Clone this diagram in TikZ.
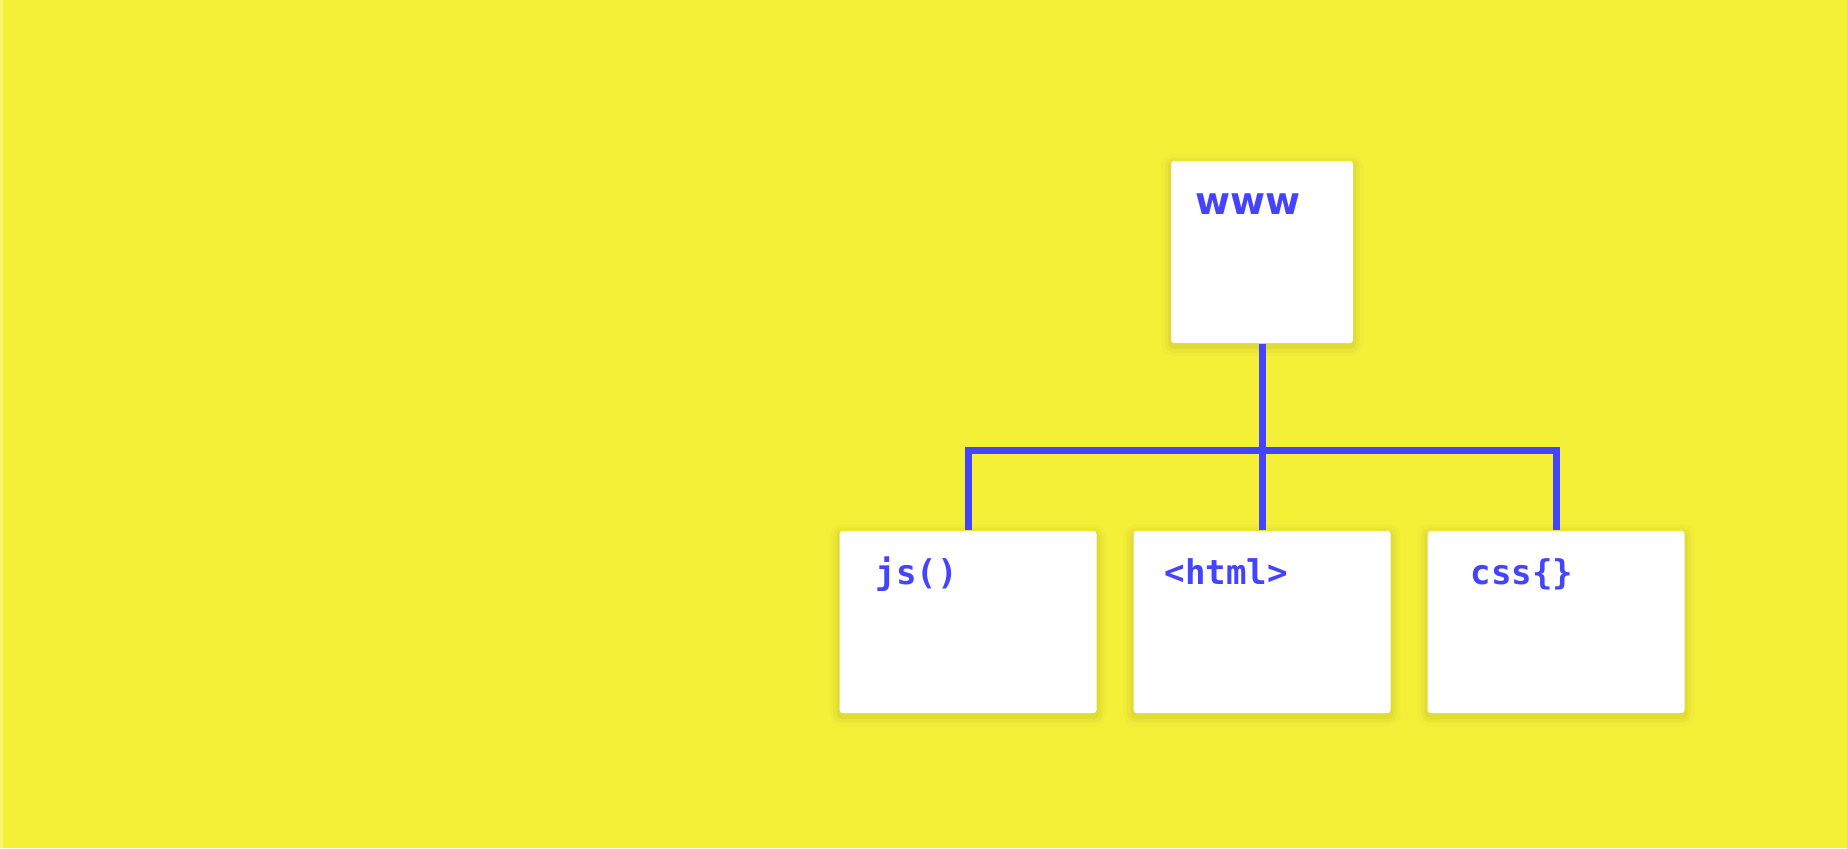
\documentclass[tikz,border=0pt]{standalone}
\usepackage{fontspec}
\usetikzlibrary{trees}
\newfontfamily\codefont{DejaVu Sans Mono}
\newfontfamily\wwwfont{DejaVu Sans}
\definecolor{bgyellow}{RGB}{244,240,56}
\definecolor{edgeyellow}{RGB}{247,244,110}
\definecolor{codeblue}{RGB}{68,68,255}

\begin{document}
\begin{tikzpicture}[
      level distance=3.7cm,
      level 1/.style={sibling distance=2.94cm},
      edge from parent/.style={draw=codeblue, line width=0.07cm},
      edge from parent path={(\tikzparentnode.south) -- ++(0,-1.065) -| (\tikzchildnode.north)},
      soft/.style 2 args={preaction={draw=black, draw opacity=#1, line width=#2,
        transform canvas={yshift=-0.03cm}}},
      page/.style={rectangle, fill=white, rounded corners=0.03cm, inner sep=0pt,
        minimum width=2.57cm, minimum height=1.82cm,
        soft={0.02}{0.2cm}, soft={0.025}{0.13cm}, soft={0.035}{0.06cm}},
      tag/.style={anchor=base west, inner sep=0pt, yshift=-0.54cm, text=codeblue,
        font=\codefont\bfseries\fontsize{9.7}{11}\selectfont}
    ]
    % Hintergrund
    \useasboundingbox (0,0) rectangle (18.47,-8.48);
    \fill[bgyellow] (0,0) rectangle (18.47,-8.48);
    \fill[edgeyellow] (0,0) rectangle (0.03,-8.48);
    % Baum
    \node[page, minimum width=1.82cm,
      label={[tag, xshift=0.24cm, font=\wwwfont\bfseries\fontsize{10.8}{13}\selectfont]north west:www}]
      (www) at (12.62,-2.52) {}
    child { node[page, label={[tag, xshift=0.36cm]north west:js()}] (js) {} }
    child { node[page, label={[tag, xshift=0.31cm]north west:<html>}] (html) {} }
    child { node[page, label={[tag, xshift=0.43cm]north west:css\{\}}] (css) {} };
  \end{tikzpicture}
\end{document}
